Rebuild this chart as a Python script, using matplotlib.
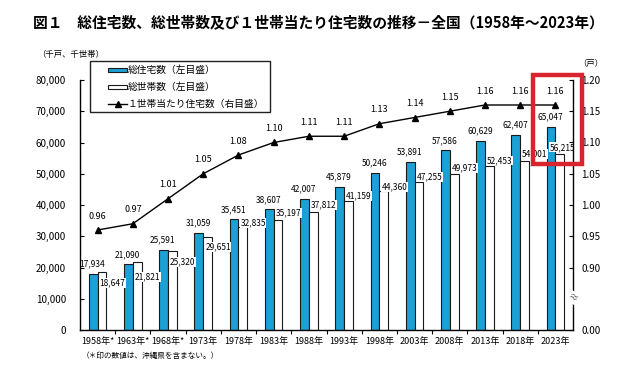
import matplotlib.pyplot as plt
import numpy as np
from matplotlib.patches import Rectangle
from matplotlib.lines import Line2D

plt.rcParams['font.family'] = ['Noto Sans CJK JP', 'DejaVu Sans']

years = ['1958年*', '1963年*', '1968年*', '1973年', '1978年', '1983年', '1988年',
         '1993年', '1998年', '2003年', '2008年', '2013年', '2018年', '2023年']
housing = [17934, 21090, 25591, 31059, 35451, 38607, 42007,
           45879, 50246, 53891, 57586, 60629, 62407, 65047]
households = [18647, 21821, 25320, 29651, 32835, 35197, 37812,
              41159, 44360, 47255, 49973, 52453, 54001, 56215]
per_household = [0.96, 0.97, 1.01, 1.05, 1.08, 1.10, 1.11,
                 1.11, 1.13, 1.14, 1.15, 1.16, 1.16, 1.16]

# vertical offsets (points) of the household labels, as placed in the original
hh_dy = [-8, -11, -8, -7, 3, 5, 5, 4, 3, 4, 4, 4, 5, 5]

blue = '#1ba1d6'
x = np.arange(len(years))
w = 0.25

fig = plt.figure(figsize=(6.26, 3.68), dpi=100)
ax = fig.add_axes([80/626, 1-330/368, 493/626, 250/368])

ax.bar(x - w/2, housing, w, color=blue, edgecolor='#1a1a1a', linewidth=0.8, zorder=2)
ax.bar(x + w/2, households, w, color='white', edgecolor='#1a1a1a', linewidth=0.8, zorder=2)

for i in range(len(x)):
    ax.annotate(f'{housing[i]:,}', (x[i] - w/2 - 0.02, housing[i]), xytext=(0, 7),
                textcoords='offset points', ha='center', va='center', fontsize=6, zorder=4)
    dx = -4 if i == len(x) - 1 else 1.5
    ax.annotate(f'{households[i]:,}', (x[i], households[i]), xytext=(dx, hh_dy[i]),
                textcoords='offset points', ha='left', va='center', fontsize=6, zorder=4,
                bbox=dict(boxstyle='square,pad=0.05', fc='white', ec='none'))

ax.set_xlim(-0.5, len(x) - 0.5)
ax.set_ylim(0, 80000)
ax.set_yticks(np.arange(0, 80001, 10000))
ax.set_yticklabels([f'{v:,}' for v in range(0, 80001, 10000)], fontsize=7)
ax.set_xticks(x)
ax.set_xticklabels(years, fontsize=6.5)
ax.set_xticks(np.arange(0.5, len(x) - 0.5, 1), minor=True)
ax.tick_params(axis='x', which='major', length=0, pad=5)
ax.tick_params(axis='x', which='minor', length=3, direction='out', width=0.8)
ax.tick_params(axis='y', direction='in', length=3, width=0.8, pad=10)
ax.spines['top'].set_visible(False)
ax.spines['right'].set_visible(False)
for s in ['left', 'bottom']:
    ax.spines[s].set_linewidth(1.0)

ax2 = ax.twinx()
ax2.plot(x, per_household, color='black', linewidth=1.0, marker='^', markersize=5, zorder=5)
for i in range(len(x)):
    ax2.annotate(f'{per_household[i]:.2f}', (x[i], per_household[i]), xytext=(0, 10),
                 textcoords='offset points', ha='center', va='center', fontsize=6.5)
ax2.set_ylim(0.80, 1.20)
rticks = [0.80, 0.90, 0.95, 1.00, 1.05, 1.10, 1.15, 1.20]
ax2.set_yticks(rticks)
ax2.set_yticklabels(['0.00'] + [f'{t:.2f}' for t in rticks[1:]], fontsize=7)
ax2.tick_params(axis='y', direction='in', length=3, width=0.8, pad=6)
ax2.spines['top'].set_visible(False)
ax2.spines['left'].set_visible(False)
ax2.spines['bottom'].set_visible(False)
ax2.spines['right'].set_linewidth(1.0)
ax2.text(1.0, 0.13, '≈', transform=ax2.transAxes, ha='center', va='center',
         fontsize=7, rotation=-30, color='#444444',
         bbox=dict(boxstyle='square,pad=0.1', fc='white', ec='none'))

# legend drawn by hand so the entries sit indented like the original
def fx(px):
    return px / 626

def fy(py):
    return 1 - py / 368

fig.add_artist(Rectangle((fx(90), fy(112)), fx(180), 51/368, transform=fig.transFigure,
                         facecolor='white', edgecolor='#222222', linewidth=1.0, zorder=6))
labels = ['総住宅数（左目盛）', '総世帯数（左目盛）', '１世帯当たり住宅数（右目盛）']
rows = [70, 87, 104]
fig.add_artist(Rectangle((fx(108), fy(rows[0] + 2)), fx(19), 4/368, transform=fig.transFigure,
                         facecolor=blue, edgecolor='#1a1a1a', linewidth=0.8, zorder=7))
fig.add_artist(Rectangle((fx(108), fy(rows[1] + 2)), fx(19), 4/368, transform=fig.transFigure,
                         facecolor='white', edgecolor='#1a1a1a', linewidth=0.8, zorder=7))
fig.add_artist(Line2D([fx(108), fx(127)], [fy(rows[2]), fy(rows[2])], transform=fig.transFigure,
                      color='black', linewidth=1.0, zorder=7))
fig.add_artist(Line2D([fx(117.5)], [fy(rows[2])], transform=fig.transFigure, marker='^',
                      markersize=4, color='black', zorder=7))
for lab, r in zip(labels, rows):
    fig.text(fx(128), fy(r), lab, ha='left', va='center', fontsize=7, zorder=8)

fig.text(33/626, 1-22/368, '図１　総住宅数、総世帯数及び１世帯当たり住宅数の推移－全国（1958年～2023年）',
         ha='left', va='center', fontsize=10.6, fontweight='bold')
fig.text(37/626, 1-54/368, '（千戸、千世帯）', ha='left', va='center', fontsize=6)
fig.text(578/626, 1-63/368, '（戸）', ha='left', va='center', fontsize=6)
fig.text(82/626, 1-356/368, '（＊印の数値は、沖縄県を含まない。）', ha='left', va='center', fontsize=5.5)

# red highlight box around the latest survey
fig.add_artist(Rectangle((533/626, 1-164/368), 49/626, 89/368, transform=fig.transFigure,
                         fill=False, edgecolor='#d9232e', linewidth=3.2, zorder=10))

fig.savefig('out.png', dpi=100)
